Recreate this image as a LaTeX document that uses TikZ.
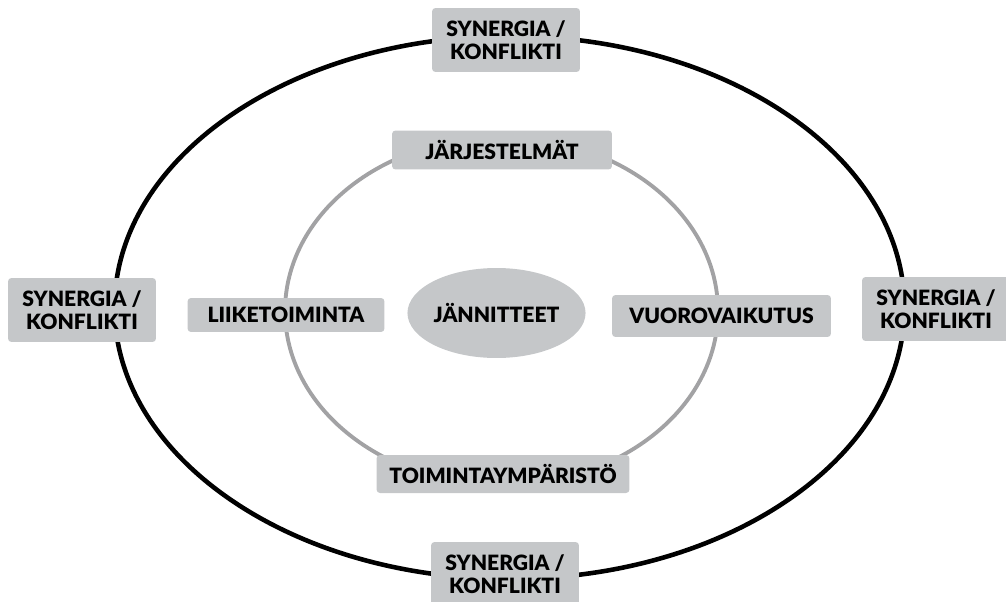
\documentclass[tikz,border=0pt]{standalone}
\usepackage{fontspec}
\setmainfont{Lato}[BoldFont={Lato Black}]
\usetikzlibrary{shapes.geometric}

\definecolor{tagfill}{HTML}{C5C7C9}
\definecolor{ringgray}{HTML}{A2A2A4}

\tikzset{
	tag/.style={fill=tagfill, rounded corners=2pt, inner sep=0pt, align=center,
		font=\bfseries\fontsize{12}{13}\selectfont},
	conflicttag/.style={tag, minimum width=2.96cm, minimum height=1.28cm},
	outerring/.style={line width=2.6pt, black},
	innerring/.style={line width=2.2pt, ringgray}
}

\begin{document}
\begin{tikzpicture}[x=0.02cm,y=-0.02cm]
	\useasboundingbox (0,0) rectangle (1006,601);

	% rings
	\draw[outerring] (509.5,307.5) ellipse [x radius=7.9cm, y radius=5.43cm];
	\draw[innerring] (501.5,311) ellipse [x radius=4.33cm, y radius=3.48cm];

	% outer tags
	\node[conflicttag] (synN) at (506,40) {SYNERGIA /\\KONFLIKTI};
	\node[conflicttag] (synS) at (505,574) {SYNERGIA /\\KONFLIKTI};
	\node[conflicttag] (synW) at (82,310) {SYNERGIA /\\KONFLIKTI};
	\node[conflicttag] (synE) at (936,309) {SYNERGIA /\\KONFLIKTI};

	% inner tags
	\node[tag, minimum width=4.4cm, minimum height=0.78cm] (jarj) at (502,150) {JÄRJESTELMÄT};
	\node[tag, minimum width=5.06cm, minimum height=0.76cm] (toim) at (503,474) {TOIMINTAYMPÄRISTÖ};
	\node[tag, minimum width=3.94cm, minimum height=0.68cm] (liike) at (286,315) {LIIKETOIMINTA};
	\node[tag, minimum width=4.38cm, minimum height=0.84cm] (vuoro) at (721.5,316) {VUOROVAIKUTUS};

	% centre
	\node[tag, ellipse, minimum width=3.34cm, minimum height=1.8cm] (jann) at (496.5,313) {JÄNNITTEET};
\end{tikzpicture}
\end{document}
